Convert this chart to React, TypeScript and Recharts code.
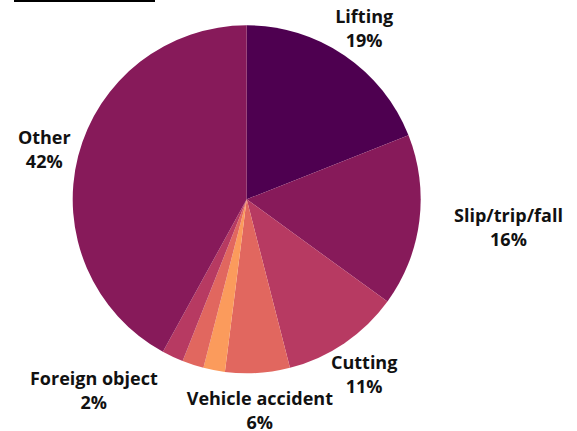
import React from "react";
import { PieChart, Pie, Cell } from "recharts";

const categories = [
  "Lifting",
  "Slip/trip/fall",
  "Cutting",
  "Vehicle accident",
  "Burn",
  "Struck by object",
  "Foreign object",
  "Other",
];
const values = [19, 16, 11, 6, 2, 2, 2, 42];
const shownLabels = [true, true, true, true, false, false, true, true];
const palette = ["#4e0050", "#871a5a", "#b73a62", "#e1675f", "#fb9b5c", "#e1675f", "#b73a62", "#871a5a"];
// label anchor: -1 = text block ends at point, 0 = centered, 1 = text block starts at point
const labelAnchor = [0, 1, 0, 0, 0, 0, -1, 0];

const data = categories.map((name, i) => ({ name, value: values[i] }));

const RAD = Math.PI / 180;
const FONT = "700 18px 'Open Sans', sans-serif";

let measureCtx: CanvasRenderingContext2D | null = null;
const measure = (s: string) => {
  if (!measureCtx && typeof document !== "undefined") {
    measureCtx = document.createElement("canvas").getContext("2d");
  }
  if (!measureCtx) return s.length * 9;
  measureCtx.font = FONT;
  return measureCtx.measureText(s).width;
};

const renderLabel = (props: any) => {
  const { cx, cy, midAngle, outerRadius, index } = props;
  if (!shownLabels[index]) return null;
  const r = outerRadius + 35;
  const px = cx + r * Math.cos(-midAngle * RAD);
  const y = cy + r * Math.sin(-midAngle * RAD);
  const a = labelAnchor[index];
  const line1 = categories[index];
  const line2 = values[index] + "%";
  const w = Math.max(measure(line1), measure(line2));
  const x = px + (a * w) / 2;
  return (
    <text
      x={x}
      y={y}
      textAnchor="middle"
      fontFamily="'Open Sans', sans-serif"
      fontWeight={700}
      fontSize={18}
      fill="#111"
    >
      <tspan x={x} dy={-3}>{line1}</tspan>
      <tspan x={x} dy={24}>{line2}</tspan>
    </text>
  );
};

export default function App() {
  return (
    <div style={{ position: "fixed", left: 0, top: 0, width: 577, height: 431, background: "#fff", overflow: "hidden" }}>
      <div style={{ position: "absolute", left: 14, top: 0, width: 141, height: 2, background: "#000" }} />
      <PieChart width={577} height={431} margin={{ top: 0, right: 0, bottom: 0, left: 0 }}>
        <Pie
          data={data}
          dataKey="value"
          nameKey="name"
          cx={246.7}
          cy={199.3}
          outerRadius={174}
          startAngle={90}
          endAngle={-270}
          stroke="none"
          label={renderLabel}
          labelLine={false}
          isAnimationActive={false}
        >
          {data.map((d, i) => (
            <Cell key={d.name} fill={palette[i]} />
          ))}
        </Pie>
      </PieChart>
    </div>
  );
}
